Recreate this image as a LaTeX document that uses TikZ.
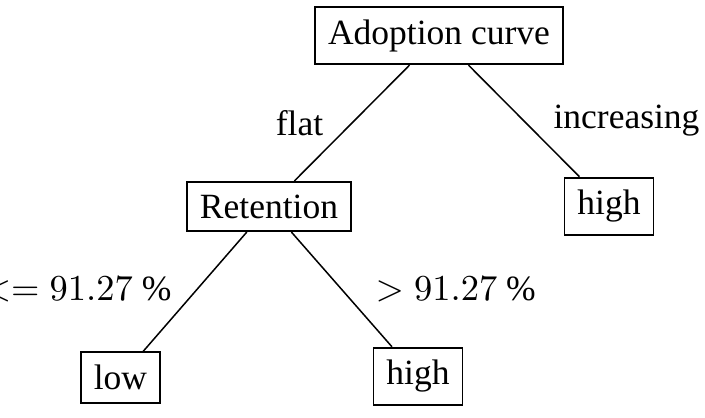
\documentclass[tikz,border=0pt]{standalone}
\usepackage{fontspec}
\setmainfont{Liberation Serif}
\begin{document}
\begin{tikzpicture}[x=0.3pt,y=-0.3pt,
  treebox/.style={draw,line width=0.55pt,inner xsep=3.9pt,inner ysep=3.8pt,font=\fontsize{10.65}{12.5}\selectfont},
  edgelabel/.style={inner sep=0pt,font=\fontsize{10.65}{12.5}\selectfont},
  treeedge/.style={line width=0.45pt}]
\useasboundingbox (0,0) rectangle (705,418);
\node[treebox] (root) at (439,35.5) {Adoption curve};
\node[treebox] (ret) at (269,206.5) {Retention};
\node[treebox] (hr) at (609,206.5) {high};
\node[treebox] (low) at (120.5,377.5) {low};
\node[treebox] (hb) at (418,376.5) {high};
\draw[treeedge] (root) -- (ret);
\draw[treeedge] (root) -- (hr);
\draw[treeedge] (ret) -- (low);
\draw[treeedge] (ret) -- (hb);
\node[edgelabel,anchor=base] (lflat) at (299.5,136) {flat};
\node[edgelabel,anchor=base] (linc) at (626.5,129) {increasing};
\node[edgelabel,anchor=base east] (lle) at (172,300.5) {$<= 91.27~\%$};
\node[edgelabel,anchor=base west] (lgt) at (375,300.5) {$> 91.27~\%$};
\end{tikzpicture}
\end{document}
